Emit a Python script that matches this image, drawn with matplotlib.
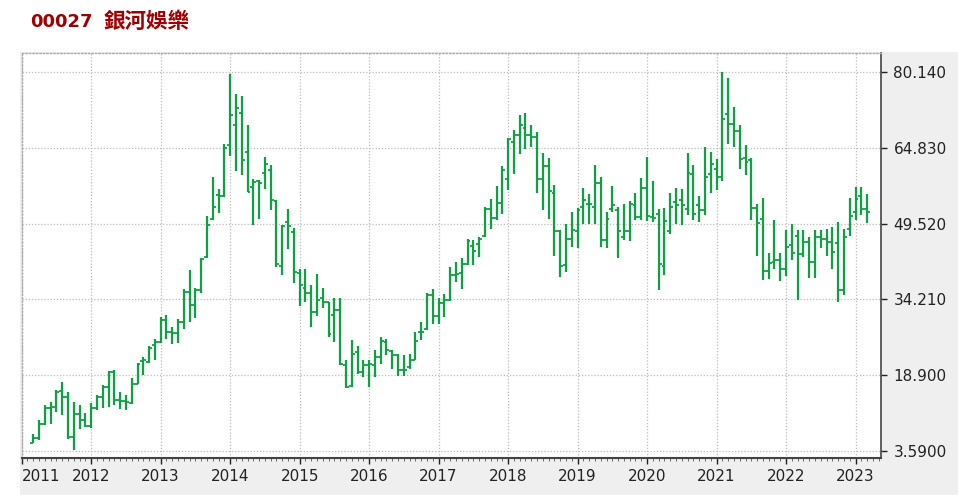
import numpy as np
import matplotlib
matplotlib.use("Agg")
import matplotlib.pyplot as plt
from matplotlib.patches import Rectangle

# monthly OHLC, Mar 2011 .. Mar 2023
opens = [5.2, 6.3, 9.1, 12.3, 12.4, 15.8, 14.5, 6.4, 11.1, 9.8,
         8.6, 12.2, 14.5, 16.5, 19.5, 13.8, 13.7, 13.3, 17.2, 21.7, 21.6, 24.9,
         25.6, 30.0, 27.7, 27.5, 29.6, 35.7, 33.1, 36.1, 42.8, 50.4, 55.2, 55.0,
         65.3, 69.5, 71.9, 64.0, 56.9, 58.1, 59.7, 60.3, 54.0, 41.0, 49.9, 47.8,
         39.6, 36.5, 35.4, 31.6, 34.4, 33.6, 31.1, 32.1, 21.0, 16.7, 23.6, 19.6,
         20.9, 21.0, 22.6, 25.6, 23.8, 23.0, 20.0, 20.5, 21.9, 27.6, 28.3, 35.0,
         30.8, 33.5, 34.0, 39.2, 39.6, 41.4, 44.9, 45.3, 47.0, 52.5, 50.7, 53.7,
         58.6, 66.0, 67.5, 68.8, 67.4, 67.0, 58.6, 61.1, 55.6, 48.0, 41.2, 46.5,
         48.1, 52.9, 53.5, 52.9, 57.7, 46.3, 52.5, 52.2, 46.9, 48.0, 53.3, 50.8,
         56.8, 50.9, 51.4, 41.0, 48.1, 53.9, 54.2, 52.5, 59.5, 53.3, 52.2, 59.5,
         60.6, 58.9, 71.7, 69.7, 68.2, 62.7, 62.4, 52.6, 50.5, 39.9, 41.7, 42.2,
         40.4, 45.1, 47.1, 43.4, 45.9, 41.8, 46.8, 46.5, 45.8, 45.5, 36.2, 48.5,
         51.9, 55.1, 52.4]
highs = [7.1, 9.8, 12.8, 13.5, 15.9, 17.6, 15.5, 13.5, 12.8, 11.3,
         13.2, 14.8, 16.9, 19.8, 19.9, 15.5, 14.8, 18.3, 21.3, 22.6, 24.8, 26.2,
         30.7, 31.0, 28.6, 30.3, 36.3, 40.1, 36.5, 42.6, 51.1, 58.9, 56.6, 65.5,
         79.8, 75.6, 75.3, 69.5, 58.6, 58.3, 63.0, 61.4, 54.2, 49.3, 52.4, 48.6,
         40.4, 40.4, 37.1, 39.4, 36.5, 33.7, 34.4, 34.4, 21.9, 26.1, 24.7, 21.9,
         21.9, 23.9, 26.7, 26.3, 23.9, 23.2, 23.0, 23.1, 27.6, 29.6, 35.5, 36.4,
         34.4, 35.3, 40.8, 41.8, 42.5, 46.5, 46.3, 46.9, 52.8, 54.4, 57.1, 61.1,
         66.9, 68.4, 71.4, 71.8, 69.4, 68.0, 63.7, 62.8, 57.4, 48.2, 49.5, 51.9,
         52.6, 56.8, 55.4, 61.3, 59.0, 51.9, 57.1, 52.9, 53.4, 54.1, 55.7, 58.8,
         62.9, 58.2, 52.4, 52.6, 55.8, 56.7, 56.5, 63.7, 61.4, 55.1, 65.0, 63.9,
         62.6, 80.1, 78.9, 73.1, 69.4, 65.3, 62.7, 53.5, 54.6, 43.5, 50.2, 43.5,
         48.2, 49.5, 48.2, 48.3, 46.8, 48.3, 48.3, 48.5, 48.8, 49.9, 48.5, 54.6,
         56.9, 57.0, 55.4]
lows = [5.1, 5.9, 8.8, 9.1, 11.4, 10.8, 6.1, 3.8, 8.1, 8.4,
        8.3, 11.8, 12.2, 12.5, 12.8, 12.1, 11.8, 13.1, 17.2, 18.9, 21.4, 21.9,
        25.5, 26.2, 25.1, 25.3, 28.3, 29.6, 30.5, 35.4, 42.6, 50.2, 51.7, 54.8,
        63.2, 60.1, 59.3, 55.9, 49.3, 50.4, 56.5, 52.2, 40.8, 39.1, 44.3, 37.6,
        32.9, 33.6, 28.6, 30.8, 32.5, 26.6, 25.7, 20.9, 16.3, 16.5, 19.2, 18.6,
        16.5, 18.6, 21.1, 23.0, 20.2, 18.7, 18.7, 20.2, 21.9, 26.0, 28.0, 29.3,
        29.3, 30.6, 33.9, 37.7, 36.4, 41.1, 41.1, 42.8, 46.8, 48.5, 50.2, 51.5,
        56.4, 59.6, 63.5, 64.5, 64.9, 55.8, 52.2, 50.5, 42.9, 38.7, 39.7, 44.7,
        44.5, 49.4, 49.4, 49.5, 44.8, 44.5, 51.9, 42.6, 46.3, 46.1, 50.2, 50.2,
        50.0, 49.9, 36.1, 39.1, 47.5, 49.5, 49.2, 51.2, 50.2, 49.9, 51.2, 55.8,
        56.3, 58.1, 65.5, 65.0, 60.5, 59.3, 50.2, 42.9, 38.1, 38.4, 40.4, 37.9,
        38.9, 42.1, 34.0, 42.8, 38.6, 38.6, 44.5, 42.9, 40.4, 33.7, 35.1, 47.1,
        50.2, 51.2, 49.6]
closes = [6.3, 9.1, 12.3, 12.4, 15.5, 14.5, 6.4, 11.1, 9.8, 8.6,
          12.2, 14.5, 16.5, 19.5, 13.8, 13.7, 13.5, 17.2, 21.1, 22.0, 24.4, 25.6,
          30.0, 27.7, 27.5, 29.6, 35.7, 33.1, 36.1, 42.3, 49.3, 52.9, 55.0, 64.7,
          71.4, 72.9, 62.4, 56.0, 57.9, 57.7, 61.6, 54.2, 41.3, 49.1, 49.0, 39.8,
          37.1, 35.6, 31.6, 34.0, 33.6, 27.3, 32.1, 21.1, 16.6, 23.2, 19.6, 20.9,
          21.1, 22.6, 25.9, 24.0, 23.0, 20.0, 20.0, 22.0, 25.9, 27.6, 35.0, 30.8,
          33.5, 34.0, 39.2, 39.4, 41.4, 46.1, 44.0, 46.5, 52.5, 50.7, 53.7, 60.3,
          66.7, 67.5, 69.4, 67.4, 67.0, 58.6, 61.1, 56.1, 48.0, 40.9, 46.5, 48.2,
          52.2, 54.2, 53.4, 57.7, 46.3, 50.5, 53.2, 48.1, 48.0, 53.5, 50.8, 56.8,
          51.0, 50.6, 41.3, 50.0, 52.8, 53.3, 53.3, 59.8, 51.5, 52.2, 59.0, 61.6,
          58.9, 70.7, 69.7, 68.2, 62.6, 62.0, 52.6, 49.6, 39.9, 41.5, 42.2, 40.4,
          44.8, 43.6, 43.4, 45.9, 41.8, 46.8, 46.5, 45.8, 43.7, 36.2, 46.8, 51.1,
          54.4, 52.4, 51.9]

years = list(range(2011, 2024))
y_ticks = [3.59, 18.9, 34.21, 49.52, 64.83, 80.14]
y_labels = ["3.5900", "18.900", "34.210", "49.520", "64.830", "80.140"]

# month index counted from Jan 2011, first bar is Mar 2011
x = np.arange(2, 2 + len(closes))
green = "#10a044"

W, H = 963, 498
fig = plt.figure(figsize=(W / 100, H / 100), dpi=100, facecolor="white")
# grey panel behind the axes
fig.patches.append(Rectangle((20 / W, 3 / H), 938 / W, (H - 52 - 3) / H,
                             transform=fig.transFigure, facecolor="#efefef",
                             edgecolor="none", zorder=-5))
ax = fig.add_axes([21.7 / W, 1 - 458 / H, (881 - 21.7) / W, (458 - 53) / H])
ax.set_facecolor("white")

ax.vlines(x, lows, highs, color=green, linewidth=1.6)
ax.hlines(opens, x - 0.5, x, color=green, linewidth=1.3)
ax.hlines(closes, x, x + 0.5, color=green, linewidth=1.3)

ax.set_xlim(0, 148.4)
ax.set_ylim(2.17, 83.98)

ax.set_xticks([(yr - 2011) * 12 for yr in years])
ax.set_xticklabels([str(yr) for yr in years])
ax.set_xticks(np.arange(0, 149, 1), minor=True)
ax.xaxis.get_majorticklabels()[0].set_horizontalalignment("left")

ax.yaxis.tick_right()
ax.set_yticks(y_ticks)
ax.set_yticklabels(y_labels)

ax.tick_params(axis="both", labelsize=11, colors="#222222", length=4, width=1)
ax.tick_params(axis="x", which="minor", length=2, color="#555555")
ax.tick_params(axis="y", pad=5)
ax.tick_params(axis="x", pad=4)

ax.grid(True, which="major", linestyle=(0, (1, 1.5)), color="#bdbdbd", linewidth=0.9)
ax.set_axisbelow(True)

for side in ["top", "left"]:
    ax.spines[side].set_linestyle((0, (1, 1.5)))
    ax.spines[side].set_color("#aaaaaa")
    ax.spines[side].set_linewidth(1.0)
ax.spines["right"].set_color("#444444")
ax.spines["bottom"].set_color("#444444")
ax.spines["right"].set_linewidth(1.2)
ax.spines["bottom"].set_linewidth(1.5)

title_font = ["DejaVu Sans", "Noto Sans CJK TC"]
fig.text(30 / W, 1 - 22 / H, "00027", color="#a00000", fontsize=13,
         fontweight="bold", va="center", ha="left", family=title_font)
fig.text(103 / W, 1 - 22 / H, "銀河娛樂", color="#a00000", fontsize=15.5,
         fontweight="bold", va="center", ha="left", family=title_font)

fig.savefig("out.png", dpi=100, facecolor="white")
